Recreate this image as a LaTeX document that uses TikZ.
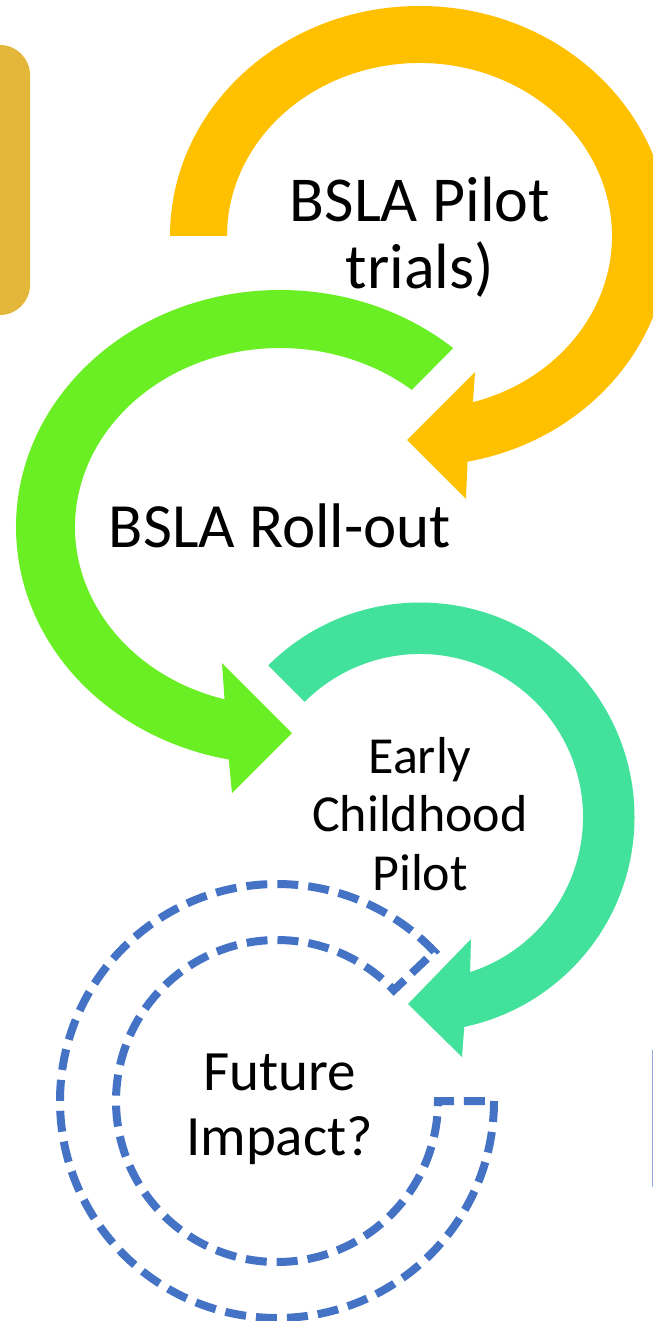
\documentclass[tikz,border=0pt]{standalone}
\usepackage{fontspec}
\setmainfont{Carlito}
\definecolor{goldc}{RGB}{255,192,0}
\definecolor{greenc}{RGB}{106,239,36}
\definecolor{tealc}{RGB}{66,226,156}
\definecolor{dashc}{RGB}{68,114,196}
\definecolor{rectc}{RGB}{227,184,58}
\definecolor{thinc}{RGB}{143,170,220}
\begin{document}
\begin{tikzpicture}[x=1pt,y=-1pt,
  lbl/.style={align=center, anchor=base, inner sep=0pt, text=black},
  dashring/.style={draw=dashc, line width=8pt, dash pattern=on 21pt off 10pt}]
\clip (0,0) rectangle (653,1321);
\fill[white] (0,0) rectangle (653,1321);
% left rounded block
\fill[rectc, rounded corners=30pt] (-40,45) rectangle (30,315);
% centres
\coordinate (gc) at (419.5,236);
\coordinate (lc) at (280,527);
\coordinate (tc) at (420,817);
\coordinate (dc) at (277,1101);
% gold arrow
\fill[goldc] ([shift={(gc)}]180:249.5 and 230) arc[start angle=180, end angle=438.9, x radius=249.5, y radius=230]
  -- (466,499) -- (407,440) -- (475,372)
  -- ([shift={(gc)}]433.9:192.5 and 173) arc[start angle=433.9, end angle=180, x radius=192.5, y radius=173] -- cycle;
% green arrow
\fill[greenc] ([shift={(lc)}]311:264 and 237) arc[start angle=311, end angle=101.2, x radius=264, y radius=237]
  -- (232,793) -- (292,733) -- (222,663)
  -- ([shift={(lc)}]105.7:205 and 179) arc[start angle=105.7, end angle=310, x radius=205, y radius=179] -- cycle;
% teal arrow
\fill[tealc] ([shift={(tc)}]225:214.5) arc[start angle=225, end angle=438.1, radius=214.5]
  -- (462,1057) -- (408,1004) -- (471,939)
  -- ([shift={(tc)}]432.1:163) arc[start angle=432.1, end angle=225, radius=163] -- cycle;
% dashed ring
\draw[dashring] ([shift={(dc)}]0:217) arc[start angle=0, end angle=316.5, radius=217]
  -- ([shift={(dc)}]316.5:161) arc[start angle=316.5, end angle=0, radius=161] -- cycle;
% thin line at right edge
\draw[thinc, line width=1.5pt] (652.5,1050) coordinate (t1) -- (652.5,1187) coordinate (t2);
% labels (base anchor = baseline of last line)
\node[lbl, font=\fontsize{64}{67}\selectfont] (pilot) at (420,289) {BSLA Pilot\\trials)};
\node[lbl, font=\fontsize{63}{66}\selectfont] (rollout) at (280,547) {BSLA Roll-out};
\node[lbl, font=\fontsize{52}{58.5}\selectfont] (early) at (420,890) {Early\\Childhood\\Pilot};
\node[lbl, font=\fontsize{57}{65}\selectfont] (future) at (279.5,1155) {Future\\Impact?};
\end{tikzpicture}
\end{document}
